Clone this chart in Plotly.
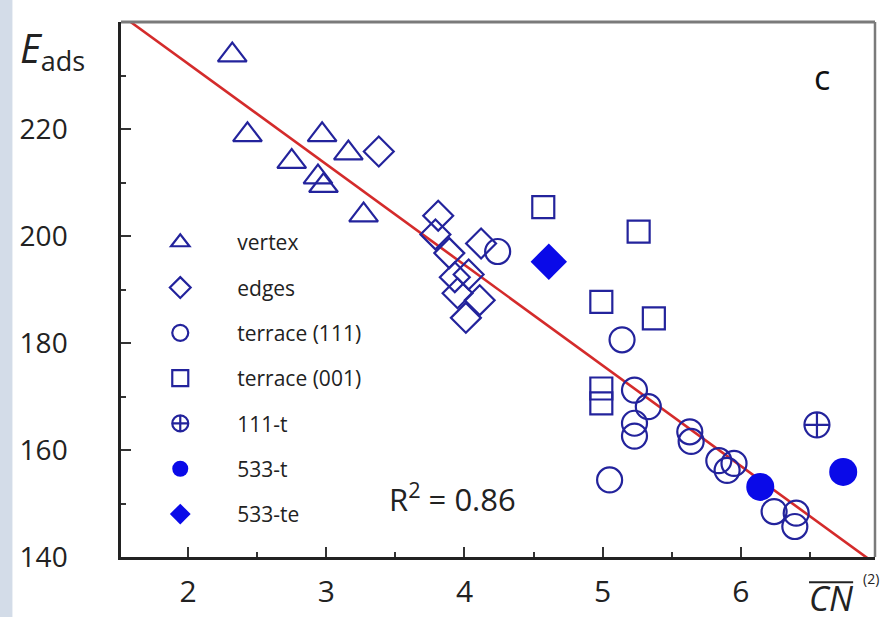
import plotly.graph_objects as go

# Adsorption energy vs generalized coordination number, per site family
vertex_x = [2.32, 2.43, 2.75, 2.97, 3.16, 2.94, 2.98, 3.27]
vertex_y = [233.8, 218.9, 213.9, 218.9, 215.5, 211.0, 209.4, 203.9]

edges_x = [3.38, 3.81, 3.79, 3.89, 3.93, 4.03, 3.95, 4.11, 4.01, 4.12]
edges_y = [215.8, 203.8, 200.3, 196.8, 192.3, 192.8, 189.3, 188.0, 184.7, 198.6]

t111_x = [4.24, 5.14, 5.23, 5.33, 5.23, 5.23, 5.05, 5.63, 5.64, 5.84, 5.90, 5.95, 6.24, 6.40, 6.39]
t111_y = [197.1, 180.6, 171.2, 168.1, 165.0, 162.6, 154.4, 163.4, 161.6, 158.0, 156.2, 157.5, 148.5, 148.2, 145.7]

t001_x = [4.57, 5.26, 4.99, 5.37, 4.99, 4.99]
t001_y = [205.4, 200.8, 187.7, 184.6, 171.5, 168.7]

s111t_x = [6.55]
s111t_y = [164.7]

s533t_x = [6.14, 6.74]
s533t_y = [153.1, 155.9]

s533te_x = [4.61]
s533te_y = [195.2]

# Linear fit E = a + b * CN
fit_a = 269.8
fit_b = -18.8
fit_r2 = 0.86

x_range = [1.515, 6.97]
y_range = [140, 240]
x_ticks = [2, 3, 4, 5, 6]
y_ticks = [140, 160, 180, 200, 220]

OPEN = "#23239c"
FILL = "#0a0ae8"
LW = 2.2

series = [
    ("vertex", vertex_x, vertex_y, "triangle-up-open", 25, OPEN),
    ("edges", edges_x, edges_y, "diamond-open", 23, OPEN),
    ("terrace (111)", t111_x, t111_y, "circle-open", 25, OPEN),
    ("terrace (001)", t001_x, t001_y, "square-open", 22, OPEN),
    ("111-t", s111t_x, s111t_y, "circle-cross-open", 25, OPEN),
    ("533-t", s533t_x, s533t_y, "circle", 28, FILL),
    ("533-te", s533te_x, s533te_y, "diamond", 28, FILL),
]

fig = go.Figure()

fit_x = [x_range[0], x_range[1]]
fig.add_trace(go.Scatter(
    x=fit_x, y=[fit_a + fit_b * v for v in fit_x], mode="lines",
    line=dict(color="#d42b2b", width=2.6), showlegend=False, hoverinfo="skip",
))

for name, xs, ys, sym, size, col in series:
    filled = not sym.endswith("-open")
    fig.add_trace(go.Scatter(
        x=xs, y=ys, mode="markers", name=name, legendgroup=name,
        marker=dict(symbol=sym, size=size, color=col,
                    line=dict(color=col, width=0 if filled else LW)),
        cliponaxis=False,
    ))

font_main = "Open Sans, Lato, sans-serif"

fig.update_layout(
    width=882, height=617,
    margin=dict(l=121, r=7, t=22, b=60),
    paper_bgcolor="white", plot_bgcolor="white",
    font=dict(family=font_main, color="#222"),
    showlegend=True,
    legend=dict(
        x=0.003, y=0.626, xanchor="left", yanchor="top",
        bgcolor="rgba(0,0,0,0)", borderwidth=0,
        font=dict(size=21, color="#222", family=font_main),
        itemwidth=104, tracegroupgap=15,
    ),
    xaxis=dict(
        range=x_range, tickvals=x_ticks, ticks="inside", ticklen=10, tickwidth=1.5,
        tickcolor="#333", showline=True, linecolor="#222", linewidth=2.5,
        showgrid=False, zeroline=False, tickfont=dict(size=30, color="#222"),
        ticklabelstandoff=6,
        minor=dict(dtick=0.5, ticks="inside", ticklen=5, tickwidth=1.5, tickcolor="#333"),
    ),
    yaxis=dict(
        range=y_range, tickvals=y_ticks, ticks="inside", ticklen=10, tickwidth=1.5,
        tickcolor="#333", showline=True, linecolor="#222", linewidth=2.5,
        showgrid=False, zeroline=False, tickfont=dict(size=28, color="#222"),
        ticklabelstandoff=45,
        minor=dict(dtick=10, ticks="inside", ticklen=5, tickwidth=1.5, tickcolor="#333"),
    ),
)

# top and right frame in grey
fig.add_shape(type="line", xref="paper", yref="paper", x0=0, x1=1, y0=1, y1=1,
              line=dict(color="#7a7a7a", width=3))
fig.add_shape(type="line", xref="paper", yref="paper", x0=1, x1=1, y0=0, y1=1,
              line=dict(color="#7a7a7a", width=2.5))
# pale strip along the left edge of the page
fig.add_shape(type="rect", xref="paper", yref="paper", x0=-0.161, x1=-0.144, y0=-0.12, y1=1.05,
              line=dict(width=0), fillcolor="#d3dce8", layer="below")

fig.add_annotation(text="<i>E</i><sub><span style='font-size:27px'>ads</span></sub>",
                   xref="paper", yref="paper",
                   x=-0.137, y=0.948, xanchor="left", yanchor="middle", showarrow=False,
                   font=dict(size=40, color="#222"))
fig.add_annotation(text="c", xref="paper", yref="paper", x=0.93, y=0.897,
                   xanchor="center", yanchor="middle", showarrow=False,
                   font=dict(size=34, color="#111"))
fig.add_annotation(text=f"R<sup>2</sup> = {fit_r2:.2f}", xref="paper", yref="paper",
                   x=0.44, y=0.112, xanchor="center", yanchor="middle", showarrow=False,
                   font=dict(size=31, color="#222"))
fig.add_annotation(text="<i>CN</i>", xref="paper", yref="paper",
                   x=0.91, y=-0.077, xanchor="left", yanchor="middle", showarrow=False,
                   font=dict(size=34, color="#222"))
fig.add_annotation(text="(2)", xref="paper", yref="paper",
                   x=0.982, y=-0.04, xanchor="left", yanchor="middle", showarrow=False,
                   font=dict(size=14, color="#222"))
# overline above CN
fig.add_shape(type="line", xref="paper", yref="paper", x0=0.9125, x1=0.971, y0=-0.047, y1=-0.047,
              line=dict(color="#222", width=2))

fig.write_html("out.html")
